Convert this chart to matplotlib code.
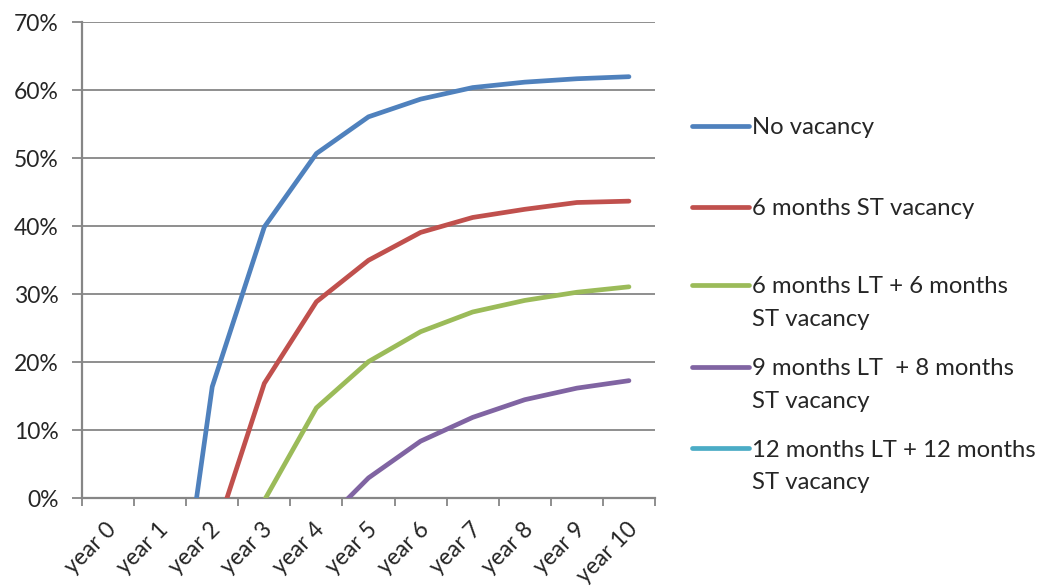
import matplotlib
matplotlib.use("Agg")
import matplotlib.pyplot as plt
from matplotlib.lines import Line2D
from matplotlib.transforms import ScaledTranslation
import numpy as np

# Cumulative return by year for each vacancy scenario (fractions; below 0 is clipped by the axis)
years = ["year 0", "year 1", "year 2", "year 3", "year 4", "year 5",
         "year 6", "year 7", "year 8", "year 9", "year 10"]

no_vacancy = [-1.00, -0.38, 0.164, 0.399, 0.507, 0.561, 0.587, 0.604, 0.612, 0.617, 0.620]
st_6m = [-1.00, -0.45, -0.066, 0.169, 0.289, 0.350, 0.391, 0.413, 0.425, 0.435, 0.437]
lt6_st6 = [-1.00, -0.60, -0.20, -0.003, 0.133, 0.201, 0.245, 0.274, 0.291, 0.303, 0.311]
lt9_st8 = [-1.00, -0.70, -0.35, -0.15, -0.047, 0.030, 0.084, 0.119, 0.145, 0.162, 0.173]
lt12_st12 = [-1.00, -0.85, -0.60, -0.40, -0.28, -0.20, -0.14, -0.10, -0.07, -0.05, -0.03]

series_labels = [
    "No vacancy",
    "6 months ST vacancy",
    "6 months LT + 6 months\nST vacancy",
    "9 months LT  + 8 months\nST vacancy",
    "12 months LT + 12 months\nST vacancy",
]
series_values = [no_vacancy, st_6m, lt6_st6, lt9_st8, lt12_st12]
series_colors = ["#4F81BD", "#C0504D", "#9BBB59", "#8064A2", "#4BACC6"]

y_ticks = [0.0, 0.1, 0.2, 0.3, 0.4, 0.5, 0.6, 0.7]

plt.rcParams["font.family"] = ["Lato", "DejaVu Sans"]
text_color = "#262626"
grid_color = "#868686"
fs = 16.5
fs_legend = 17.2
lw_series = 3.4

W, H = 1045, 588
fig = plt.figure(figsize=(W / 100, H / 100), dpi=100)
ax = fig.add_axes([82 / W, 1 - 498.3 / H, (655 - 82) / W, (498.3 - 22.3) / H])

x = np.arange(len(years))
for vals, col in zip(series_values, series_colors):
    ax.plot(x, vals, color=col, lw=lw_series, solid_capstyle="round",
            solid_joinstyle="round", zorder=3)

ax.set_xlim(-0.5, len(years) - 0.5)
ax.set_ylim(0, 0.7)

# Horizontal gridlines
ax.set_yticks(y_ticks)
ax.set_yticklabels([f"{int(round(v * 100))}%" for v in y_ticks])
ax.yaxis.grid(True, color=grid_color, lw=1.3, zorder=1)
ax.xaxis.grid(False)

# Category boundaries carry the tick marks, centres carry the labels
ax.set_xticks(np.arange(-0.5, len(years), 1.0))
ax.set_xticklabels([])
ax.set_xticks(x, minor=True)
ax.set_xticklabels(years, minor=True, rotation=45, ha="right",
                   va="center", rotation_mode="anchor")

ax.tick_params(axis="x", which="major", length=6, width=1.3, color=grid_color)
ax.tick_params(axis="x", which="minor", length=0, pad=20, labelsize=fs,
               labelcolor=text_color)
ax.tick_params(axis="y", length=7, width=1.3, color=grid_color, pad=10,
               labelsize=fs, labelcolor=text_color)

shift = ScaledTranslation(5 / 100, 0, fig.dpi_scale_trans)
for lbl in ax.get_xticklabels(minor=True):
    lbl.set_transform(lbl.get_transform() + shift)

for side in ("top", "right"):
    ax.spines[side].set_visible(False)
for side in ("left", "bottom"):
    ax.spines[side].set_color(grid_color)
    ax.spines[side].set_linewidth(1.6)

# Legend drawn entry by entry on the figure
legend_rows = [126, 206.7, 285, 366.7, 448.3]
line_step = 32.5
for label, col, yrow in zip(series_labels, series_colors, legend_rows):
    yf = 1 - yrow / H
    fig.add_artist(Line2D([692 / W, 749 / W], [yf, yf], color=col, lw=lw_series,
                          solid_capstyle="round", transform=fig.transFigure))
    for i, part in enumerate(label.split("\n")):
        fig.text(752 / W, 1 - (yrow + i * line_step) / H, part, ha="left",
                 va="center_baseline", fontsize=fs_legend, color=text_color)

fig.savefig("out.png", dpi=100)
